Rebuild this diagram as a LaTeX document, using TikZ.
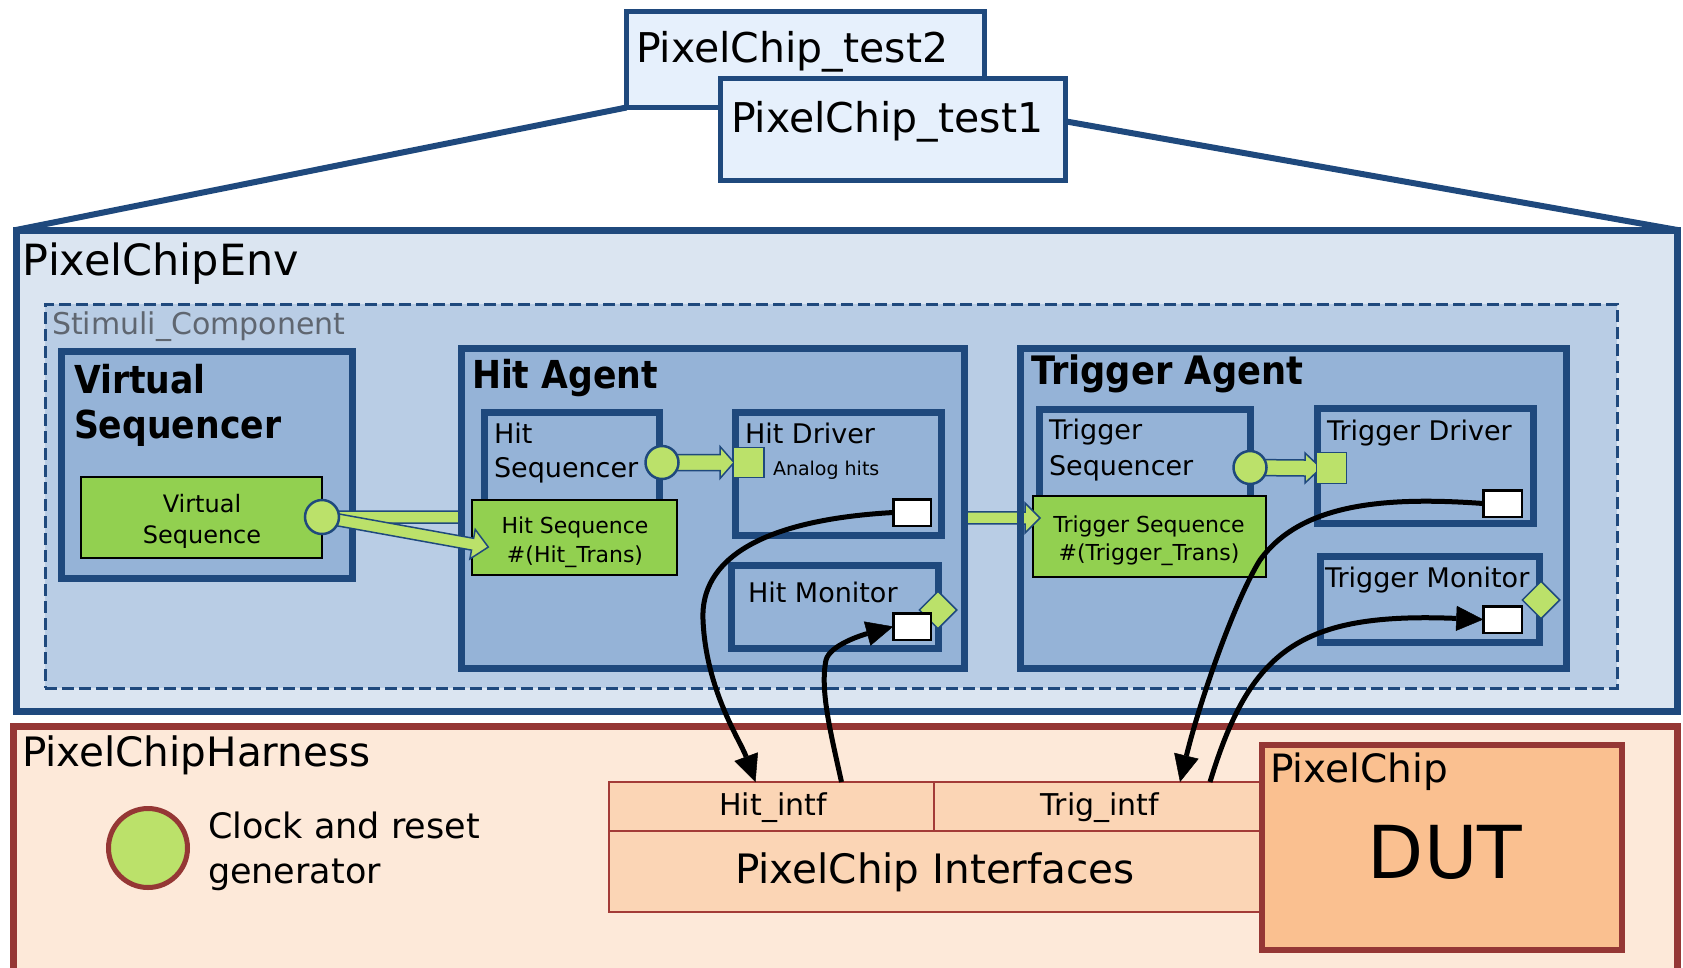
\documentclass[tikz,border=0pt]{standalone}
\usepackage{fontspec}
\setmainfont{DejaVu Sans}
\newfontfamily\condbold{DejaVu Sans}[FakeStretch=0.9]
\usetikzlibrary{calc,shapes.geometric,arrows.meta}
\definecolor{dblue}{HTML}{1F497D}
\definecolor{envfill}{HTML}{DBE5F1}
\definecolor{stimfill}{HTML}{B9CDE5}
\definecolor{agentfill}{HTML}{95B3D7}
\definecolor{testfill}{HTML}{E6F0FC}
\definecolor{seqgreen}{HTML}{92D050}
\definecolor{lgreen}{HTML}{BBE16A}
\definecolor{harnfill}{HTML}{FDE9D9}
\definecolor{harnline}{HTML}{953735}
\definecolor{intffill}{HTML}{FBD5B5}
\definecolor{intfline}{HTML}{A33B37}
\definecolor{dutfill}{HTML}{FAC090}
\definecolor{graytext}{HTML}{5F6670}
\newcommand\fsz[1]{\fontsize{#1}{#1}\selectfont}
% rectangle node given by the corners of its border centre line
\newcommand\boxat[6]{\node[#2, minimum width={#5-#3}, minimum height={#6-#4}] (#1) at ({(#3+#5)/2},{(#4+#6)/2}) {};}
% horizontal block arrow: start, tip, half bar width, half head width, head length
\newcommand\hblock[5]{\draw[blockarr] ($(#1)+(0,-#3)$) -- ($(#2)+(-#5,-#3)$) -- ($(#2)+(-#5,-#4)$) -- (#2) -- ($(#2)+(-#5,#4)$) -- ($(#2)+(-#5,#3)$) -- ($(#1)+(0,#3)$) -- cycle;}
\pgfdeclarelayer{bg}
\pgfsetlayers{bg,main}
\begin{document}
\begin{tikzpicture}[x=1pt,y=-1pt,
  plainbox/.style={rectangle, inner sep=0pt, outer sep=0pt},
  testbox/.style={plainbox, draw=dblue, line width=5pt, fill=testfill},
  envbox/.style={plainbox, draw=dblue, line width=7pt, fill=envfill},
  stimbox/.style={plainbox, draw=dblue, line width=3pt, dash pattern=on 12pt off 5pt, fill=stimfill},
  agentbox/.style={plainbox, draw=dblue, line width=7pt, fill=agentfill},
  seqbox/.style={plainbox, draw=black, line width=2pt, fill=seqgreen},
  portsq/.style={plainbox, draw=dblue, line width=1.5pt, fill=lgreen},
  portbox/.style={plainbox, draw=black, line width=2.5pt, fill=white},
  portcirc/.style={circle, inner sep=0pt, draw=dblue, line width=2.5pt, fill=lgreen, minimum size=33pt},
  portdia/.style={diamond, inner sep=0pt, draw=dblue, line width=1.5pt, fill=lgreen, minimum width=38pt, minimum height=38pt},
  blockarr/.style={draw=dblue, line width=1.5pt, fill=lgreen, line join=miter},
  harnbox/.style={plainbox, draw=harnline, line width=7pt, fill=harnfill},
  intfbox/.style={plainbox, draw=intfline, line width=2pt, fill=intffill},
  dutbox/.style={plainbox, draw=harnline, line width=6pt, fill=dutfill},
  lbl/.style={anchor=base west, inner sep=0pt, outer sep=0pt},
  clbl/.style={anchor=base, inner sep=0pt, outer sep=0pt},
  headlbl/.style={lbl, font=\condbold\bfseries\fsz{38.5}},
  testlink/.style={draw=dblue, line width=6pt},
  wire/.style={draw=black, line width=5pt, -{Triangle[length=27pt,width=25pt,line width=0.5pt]}},
]
\useasboundingbox (0,0) rectangle (1683,967);
\clip (0,0) rectangle (1683,967);

% environment and the two tests above it
\boxat{env}{envbox}{16}{230}{1677.5}{711}
\boxat{test2}{testbox}{626.5}{11.5}{984.5}{107.5}
\boxat{test1}{testbox}{720.5}{78.5}{1065.5}{180.5}
\begin{pgfonlayer}{bg}
  \draw[testlink] (test2.south west) -- (env.north west);
  \draw[testlink] ($(test1.north east)!0.42!(test1.south east)$) -- (env.north east);
\end{pgfonlayer}
\node[lbl, font=\fsz{41}] at (636,62) {PixelChip\_test2};
\node[lbl, font=\fsz{41}] at (731,132) {PixelChip\_test1};
\node[lbl, font=\fsz{43}] at (23,275) {PixelChipEnv};

% stimuli component
\boxat{stim}{stimbox}{45}{304}{1617}{688}
\node[lbl, font=\fsz{30}, text=graytext] at (52,334) {Stimuli\_Component};

% virtual sequencer
\boxat{vseqr}{agentbox}{61.5}{351.5}{352.5}{578.5}
\node[headlbl] at (74,393) {Virtual};
\node[headlbl] at (74,438) {Sequencer};
\boxat{vseq}{seqbox}{81}{477}{322}{558}
\node[clbl, font=\fsz{24}] at (202,512) {Virtual};
\node[clbl, font=\fsz{24}] at (202,543) {Sequence};
\coordinate (vc) at (322,517);
\coordinate (vtip) at (1040,518);
\hblock{vc}{vtip}{6}{15}{15}

% agents
\boxat{hag}{agentbox}{461.5}{348.5}{964.5}{668.5}
\boxat{tag}{agentbox}{1020.5}{348.5}{1566.5}{668.5}
\node[headlbl] at (472,388) {Hit Agent};
\node[headlbl, font=\condbold\bfseries\fsz{39.2}] at (1031,384) {Trigger Agent};

% hit agent
\boxat{hsqr}{agentbox}{484.5}{412.5}{659.5}{505}
\boxat{hdrv}{agentbox}{735.5}{412.5}{941.5}{535.5}
\boxat{hmon}{agentbox}{731.5}{565.5}{938.5}{648.5}
\node[lbl, font=\fsz{27}] at (494,443) {Hit};
\node[lbl, font=\fsz{27}] at (494,477) {Sequencer};
\node[lbl, font=\fsz{27}] at (745,443) {Hit Driver};
\node[lbl, font=\fsz{19}] at (773,475) {Analog hits};
\node[lbl, font=\fsz{27}] at (748,602) {Hit Monitor};
\boxat{hseq}{seqbox}{472}{500}{677}{575}
\node[clbl, font=\fsz{22}] at (575,533) {Hit Sequence};
\node[clbl, font=\fsz{22}] at (575,562) {\#(Hit\_Trans)};
\begin{scope}[shift={(vc)}, rotate=-10.24]
  \draw[blockarr] (0,-6) -- (153,-6) -- (153,-15) -- (169,0) -- (153,15) -- (153,6) -- (0,6) -- cycle;
\end{scope}
\node[portcirc, minimum size=34pt] (vcirc) at (vc) {};
\coordinate (hsc) at (662,462.5);
\coordinate (htip) at (734,462.5);
\hblock{hsc}{htip}{8}{16}{14}
\boxat{hsq}{portsq}{733.5}{447.5}{764}{477.5}
\node[portcirc] (hscirc) at (hsc) {};
\node[portdia] (hmdia) at (938,610) {};
\boxat{hdport}{portbox}{893.25}{499.25}{930.75}{525.75}
\boxat{hmport}{portbox}{893.25}{613.25}{930.75}{639.75}

% trigger agent
\boxat{tsqr}{agentbox}{1039.5}{409.5}{1250.5}{500}
\boxat{tdrv}{agentbox}{1317.5}{408.5}{1533.5}{523.5}
\boxat{tmon}{agentbox}{1320.5}{556.5}{1539.5}{642.5}
\node[lbl, font=\fsz{27}] at (1049,439) {Trigger};
\node[lbl, font=\fsz{27}] at (1049,475) {Sequencer};
\node[lbl, font=\fsz{27}] at (1327,440) {Trigger Driver};
\node[lbl, font=\fsz{27}] at (1325,587) {Trigger Monitor};
\boxat{tseq}{seqbox}{1033}{496}{1266}{577}
\node[clbl, font=\fsz{22}] at (1149,532) {Trigger Sequence};
\node[clbl, font=\fsz{22}] at (1149,560) {\#(Trigger\_Trans)};
\begin{scope}
  \clip (1024,495) rectangle (1060,545);
  \hblock{vc}{vtip}{6}{15}{15}
\end{scope}
\coordinate (tsc) at (1250,467.5);
\coordinate (ttip) at (1321,468);
\hblock{tsc}{ttip}{8}{15}{16}
\boxat{tsq}{portsq}{1316.5}{452.5}{1346.5}{483.5}
\node[portcirc] (tscirc) at (tsc) {};
\node[portdia] (tmdia) at (1541,600) {};
\boxat{tdport}{portbox}{1483.25}{490.25}{1521.75}{516.75}
\boxat{tmport}{portbox}{1483.25}{606.25}{1521.75}{632.75}

% harness
\boxat{harn}{harnbox}{13.5}{726}{1677.5}{1000}
\node[lbl, font=\fsz{40.5}] at (22,766) {PixelChipHarness};
\node[circle, inner sep=0pt, draw=harnline, line width=5pt, fill=lgreen, minimum size=79pt] (clk) at (148,848) {};
\node[lbl, font=\fsz{35}] at (208,838) {Clock and reset};
\node[lbl, font=\fsz{35}] at (208,883) {generator};
\boxat{intf}{intfbox}{609}{782}{1260}{912}
\boxat{hitif}{intfbox}{609}{782}{934}{831}
\boxat{trigif}{intfbox}{934}{782}{1260}{831}
\node[clbl, font=\fsz{30}] at (773,815) {Hit\_intf};
\node[clbl, font=\fsz{30}] at (1100,815) {Trig\_intf};
\node[clbl, font=\fsz{40.5}] at (935,883) {PixelChip Interfaces};
\boxat{dut}{dutbox}{1262}{745}{1622}{950}
\node[lbl, font=\fsz{39}] at (1270,782) {PixelChip};
\node[clbl, font=\fsz{73}] at (1445,878) {DUT};

% signal wires between the agents and the interfaces
\coordinate (hitin) at ($(hitif.north)+(-16,0)$);
\coordinate (hitout) at ($(hitif.north)+(70,0)$);
\coordinate (trigin) at ($(trigif.north)+(83,0)$);
\coordinate (trigout) at ($(trigif.north)+(113,0)$);
\draw[wire] (hdport.west) .. controls (760,520) and (700,560) .. (703,620) .. controls (706,690) and (740,740) .. (hitin);
\draw[wire] (hitout) .. controls (830,730) and (820,690) .. (826,660) .. controls (830,645) and (862,635) .. (hmport.west);
\draw[wire] (tdport.west) .. controls (1380,496) and (1300,505) .. (1260,560) .. controls (1235,600) and (1200,700) .. (trigin);
\draw[wire] (trigout) .. controls (1250,650) and (1300,612) .. (tmport.west);
\end{tikzpicture}
\end{document}
